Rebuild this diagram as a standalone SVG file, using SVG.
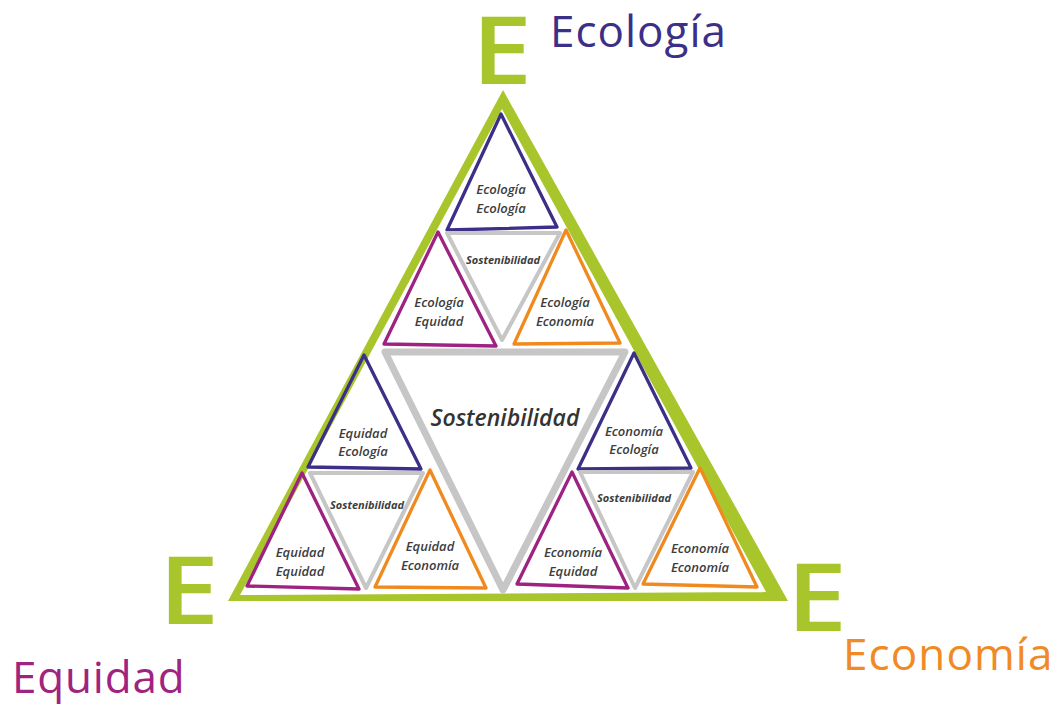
<svg xmlns="http://www.w3.org/2000/svg" width="1059" height="704" viewBox="0 0 1059 704">
<style>
.tri{fill:none;stroke-linejoin:round;stroke-linecap:round}
.navy{stroke:#3b2f88;stroke-width:3.3}
.mag{stroke:#9e2282;stroke-width:3.3}
.ora{stroke:#f08a1f;stroke-width:3.3}
.gray{stroke:#c6c6c6;stroke-width:4}
.bigg{stroke:#c6c6c6;stroke-width:7}
.lbl{font-family:"Open Sans","DejaVu Sans",sans-serif;font-style:italic;font-weight:600;font-size:13px;fill:#3d3d3d;text-anchor:middle}
.sos{font-family:"Open Sans","DejaVu Sans",sans-serif;font-style:italic;font-weight:700;font-size:11px;fill:#3d3d3d;text-anchor:middle}
.head{font-family:"Open Sans","DejaVu Sans",sans-serif;font-size:44px}
.bigE{font-family:"Open Sans","DejaVu Sans",sans-serif;font-weight:600;font-size:94px;fill:#a8c62b;text-anchor:middle}
</style>
<rect width="1059" height="704" fill="#ffffff"/>

<g id="outer-triangle">
<path d="M503,90 L788,601 L228,601 Z M502,109 L240,595 L766,592 Z" fill="#a8c62b" fill-rule="evenodd"/>
</g>

<g id="connectors">
<polygon class="tri bigg" points="385,352 625,352 503,590"/>
</g>

<g id="top-ecologia-ecologia">
<polygon class="tri navy" points="501,114 557,227 447,230"/>
<text class="lbl" x="501" y="194">Ecología</text>
<text class="lbl" x="501" y="213">Ecología</text>
</g>
<g id="top-sostenibilidad">
<polygon class="tri gray" points="447,233 560,233 502,340"/>
<text class="sos" x="503" y="264">Sostenibilidad</text>
</g>
<g id="top-ecologia-equidad">
<polygon class="tri mag" points="438,232 496,346 384,344"/>
<text class="lbl" x="439" y="307">Ecología</text>
<text class="lbl" x="439" y="326">Equidad</text>
</g>
<g id="top-ecologia-economia">
<polygon class="tri ora" points="566,230 620,343 514,344"/>
<text class="lbl" x="565" y="307">Ecología</text>
<text class="lbl" x="565" y="326">Economía</text>
</g>

<g id="left-equidad-ecologia">
<polygon class="tri navy" points="364,355 421,469 308,467"/>
<text class="lbl" x="363" y="438">Equidad</text>
<text class="lbl" x="363" y="456">Ecología</text>
</g>
<g id="left-sostenibilidad">
<polygon class="tri gray" points="310,473 423,473 366,588"/>
<text class="sos" x="367" y="509">Sostenibilidad</text>
</g>
<g id="left-equidad-equidad">
<polygon class="tri mag" points="302,473 359,589 247,586"/>
<text class="lbl" x="300" y="557">Equidad</text>
<text class="lbl" x="300" y="576">Equidad</text>
</g>
<g id="left-equidad-economia">
<polygon class="tri ora" points="430,470 486,588 375,587"/>
<text class="lbl" x="430" y="551">Equidad</text>
<text class="lbl" x="430" y="570">Economía</text>
</g>

<g id="right-economia-ecologia">
<polygon class="tri navy" points="634,353 691,468 578,469"/>
<text class="lbl" x="634" y="436">Economía</text>
<text class="lbl" x="634" y="454">Ecología</text>
</g>
<g id="right-sostenibilidad">
<polygon class="tri gray" points="580,472 693,472 635,588"/>
<text class="sos" x="634" y="502">Sostenibilidad</text>
</g>
<g id="right-economia-equidad">
<polygon class="tri mag" points="572,472 628,588 517,584"/>
<text class="lbl" x="573" y="557">Economía</text>
<text class="lbl" x="573" y="576">Equidad</text>
</g>
<g id="right-economia-economia">
<polygon class="tri ora" points="700,468 757,587 643,584"/>
<text class="lbl" x="700" y="553">Economía</text>
<text class="lbl" x="700" y="572">Economía</text>
</g>

<g id="center-sostenibilidad">
<text x="505" y="426" font-family="'Open Sans','DejaVu Sans',sans-serif" font-style="italic" font-weight="600" font-size="23" fill="#333333" text-anchor="middle">Sostenibilidad</text>
</g>

<g id="label-ecologia">
<text class="bigE" transform="translate(502,84) scale(1.15,1)">E</text>
<text class="head" x="550" y="47" fill="#3b2f88" letter-spacing="1">Ecología</text>
</g>
<g id="label-equidad">
<text class="bigE" transform="translate(189,624) scale(1.15,1)">E</text>
<text class="head" x="12" y="693" fill="#a0237f" letter-spacing="0.8">Equidad</text>
</g>
<g id="label-economia">
<text class="bigE" transform="translate(817,631) scale(1.15,1)">E</text>
<text class="head" x="843" y="670" fill="#f08a24" letter-spacing="1.1">Economía</text>
</g>
</svg>
